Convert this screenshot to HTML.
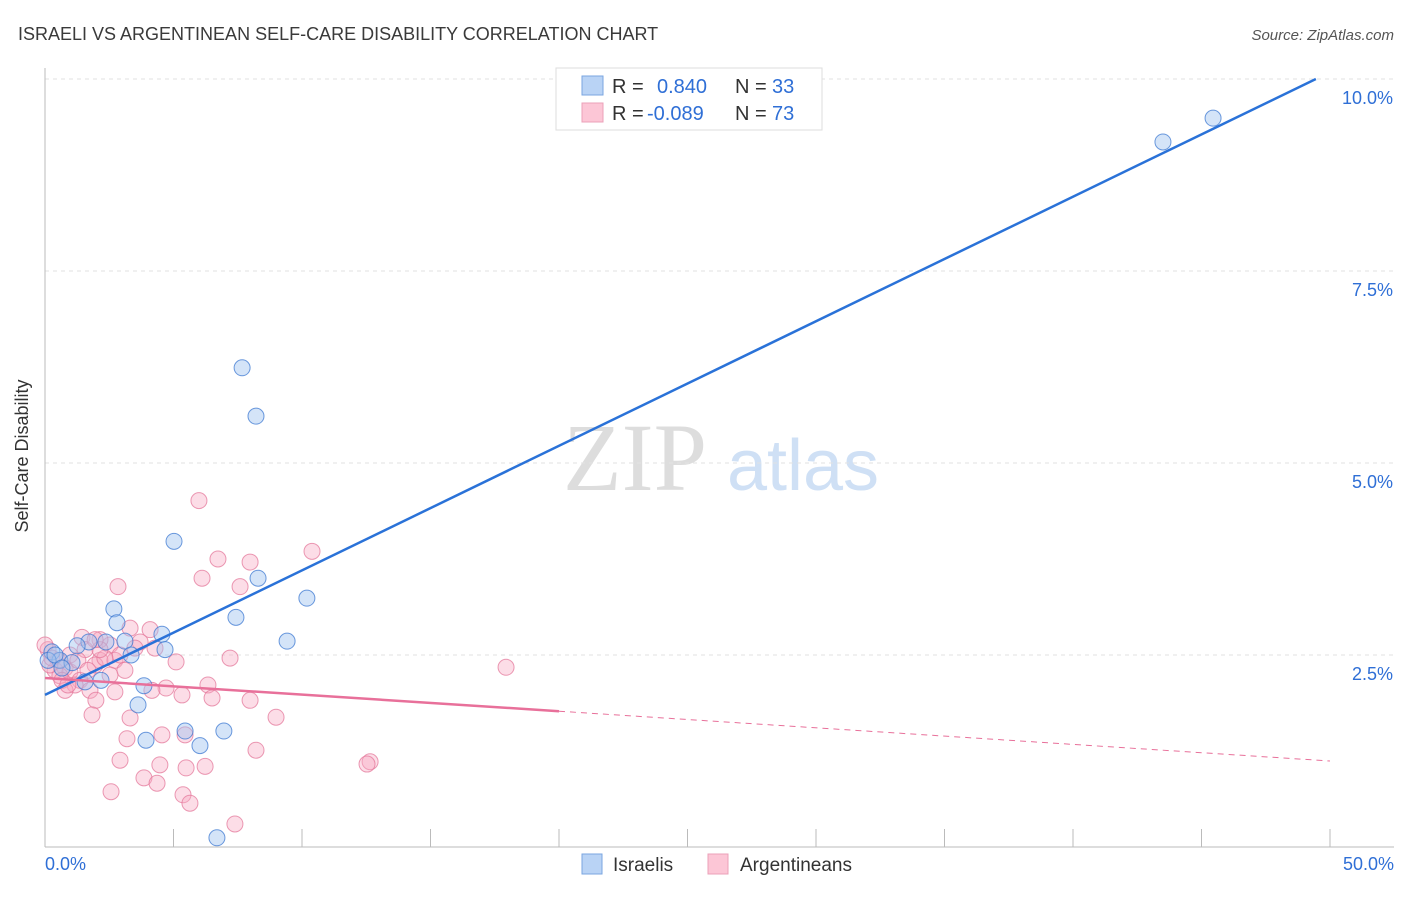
<!DOCTYPE html>
<html><head><meta charset="utf-8"><style>
body{margin:0;background:#fff;font-family:"Liberation Sans",sans-serif}
</style></head><body>
<svg id="chart" width="1406" height="892" xmlns="http://www.w3.org/2000/svg">
<text x="18" y="40" font-size="18" fill="#3a3a3a">ISRAELI VS ARGENTINEAN SELF-CARE DISABILITY CORRELATION CHART</text>
<text x="1394" y="40" font-size="15" fill="#555" font-style="italic" text-anchor="end">Source: ZipAtlas.com</text>
<g>
<text x="635" y="490" font-size="96" font-family="Liberation Serif,serif" fill="#ddd" text-anchor="middle">ZIP</text>
<text x="803" y="490" font-size="72" fill="#cfe0f5" text-anchor="middle">atlas</text>
</g>
<g id="grid"></g><g id="axes"></g><g id="pts"></g><g id="lines"></g>
<text x="28" y="456" font-size="18" fill="#333" text-anchor="middle" transform="rotate(-90 28 456)">Self-Care Disability</text>
<g>
<rect x="556" y="68" width="266" height="62" fill="#fff" stroke="#ddd"/>
<rect x="582" y="76" width="21" height="19" fill="#b9d3f5" stroke="#7aa6e0"/>
<rect x="582" y="103" width="21" height="19" fill="#fcc6d6" stroke="#eba0b8"/>
<text x="612" y="93" font-size="20" fill="#333">R = </text><text x="657" y="93" font-size="20" fill="#2f6fd6">0.840</text>
<text x="735" y="93" font-size="20" fill="#333">N = </text><text x="772" y="93" font-size="20" fill="#2f6fd6">33</text>
<text x="612" y="120" font-size="20" fill="#333">R = </text><text x="647" y="120" font-size="20" fill="#2f6fd6">-0.089</text>
<text x="735" y="120" font-size="20" fill="#333">N = </text><text x="772" y="120" font-size="20" fill="#2f6fd6">73</text>
</g>
<g>
<rect x="582" y="854" width="20" height="20" fill="#b9d3f5" stroke="#7aa6e0"/>
<text x="613" y="871" font-size="19" fill="#333">Israelis</text>
<rect x="708" y="854" width="20" height="20" fill="#fcc6d6" stroke="#eba0b8"/>
<text x="740" y="871" font-size="19" fill="#333">Argentineans</text>
</g>
</svg>
<script>
const xTicks=[0,5,10,15,20,25,30,35,40,45,50];
const yTicks=[2.5,5,7.5,10];
const yTickLabels=["2.5%","5.0%","7.5%","10.0%"];
const xTickLabels=["0.0%","50.0%"];
const israeliX=[45.45,43.5,7.67,8.21,5.02,8.29,10.19,7.43,2.68,2.80,4.55,9.42,2.37,3.11,1.71,1.25,3.35,4.67,0.27,0.58,0.12,1.05,2.18,1.56,3.85,3.62,5.45,6.96,3.93,6.03,6.69,0.39,0.66];
const israeliY=[9.49,9.18,6.24,5.61,3.98,3.50,3.24,2.99,3.10,2.92,2.77,2.68,2.67,2.68,2.67,2.62,2.50,2.57,2.54,2.43,2.43,2.40,2.17,2.15,2.10,1.85,1.51,1.51,1.39,1.32,0.12,2.50,2.33];
const argX=[5.99,10.39,6.73,7.98,6.11,2.84,7.59,3.31,4.09,1.44,3.70,2.53,4.28,5.10,7.20,17.94,2.14,1.95,2.72,0.78,0.39,0.12,0.97,1.36,0.58,1.17,1.75,6.34,4.71,5.33,4.16,2.72,6.50,7.98,1.98,1.83,3.31,8.99,4.55,5.45,3.19,8.21,2.92,4.47,5.49,6.23,12.65,12.53,3.85,4.36,2.57,5.37,5.64,7.39,0.78,0.51,2.14,1.56,2.92,2.33,3.50,0.97,1.28,1.67,0.66,0.19,0.89,2.53,3.11,2.14,1.95,0.27,0.0];
const argY=[4.51,3.85,3.75,3.71,3.50,3.39,3.39,2.85,2.83,2.73,2.67,2.63,2.59,2.41,2.46,2.34,2.43,2.37,2.43,2.33,2.30,2.57,2.28,2.17,2.23,2.11,2.04,2.11,2.07,1.98,2.04,2.02,1.94,1.91,1.91,1.72,1.68,1.69,1.46,1.46,1.41,1.26,1.13,1.07,1.03,1.05,1.11,1.08,0.90,0.83,0.72,0.68,0.57,0.30,2.04,2.43,2.70,2.57,2.50,2.46,2.59,2.50,2.43,2.30,2.17,2.37,2.11,2.24,2.30,2.57,2.70,2.46,2.63];
const israeliFit=[1.98,10.0];
const israeliFitEndX=49.45;
const argFit=[2.2,1.12];
const argSolidEnd=20;
const sx=v=>45+v*25.7, sy=v=>847-v*76.8;
const NS="http://www.w3.org/2000/svg";
function mk(p,t,a){const e=document.createElementNS(NS,t);for(const k in a)e.setAttribute(k,a[k]);p.appendChild(e);return e;}
const grid=document.getElementById('grid'),axes=document.getElementById('axes'),pts=document.getElementById('pts'),lines=document.getElementById('lines');
yTicks.forEach((t,i)=>{
 const g=mk(grid,'line',{x1:45,x2:1394,y1:sy(t),y2:sy(t),stroke:'#e2e2e2','stroke-dasharray':'4,4'});
 
 
 const l=mk(axes,'text',{x:1393,y:sy(t)+25,'font-size':18,fill:'#2f6fd6','text-anchor':'end'});l.textContent=yTickLabels[i];
 
 
});
const ax=mk(axes,'line',{x1:45,x2:45,y1:68,y2:847,stroke:'#bbb'});


const bx=mk(axes,'line',{x1:45,x2:1394,y1:847,y2:847,stroke:'#bbb'});


xTicks.forEach(t=>{const k=mk(axes,'line',{x1:sx(t),x2:sx(t),y1:829,y2:847,stroke:'#bbb'});
 
 });
[[0,'start',45],[50,'end',1394]].forEach((o,i)=>{const l=mk(axes,'text',{x:o[2],y:870,'font-size':18,fill:'#2f6fd6','text-anchor':o[1]});l.textContent=xTickLabels[i];
 
 });
argX.forEach((x,i)=>{const c=mk(pts,'circle',{cx:sx(x),cy:sy(argY[i]),r:8,fill:'rgba(248,170,195,0.4)',stroke:'rgba(228,120,155,0.75)','stroke-width':1});
 
 });
israeliX.forEach((x,i)=>{const c=mk(pts,'circle',{cx:sx(x),cy:sy(israeliY[i]),r:8,fill:'rgba(160,195,240,0.45)',stroke:'rgba(60,120,210,0.75)','stroke-width':1});
 
 });
const bl=mk(lines,'line',{x1:sx(0),y1:sy(israeliFit[0]),x2:sx(israeliFitEndX),y2:sy(israeliFit[1]),stroke:'#2a72d8','stroke-width':2.5});


const ay=x=>argFit[0]+(argFit[1]-argFit[0])*x/50;
const pl=mk(lines,'line',{x1:sx(0),y1:sy(ay(0)),x2:sx(argSolidEnd),y2:sy(ay(argSolidEnd)),stroke:'#e8709a','stroke-width':2.5});


const pd=mk(lines,'line',{x1:sx(argSolidEnd),y1:sy(ay(argSolidEnd)),x2:sx(50),y2:sy(ay(50)),stroke:'#e8709a','stroke-width':1,'stroke-dasharray':'6,5'});


</script>
</body></html>
